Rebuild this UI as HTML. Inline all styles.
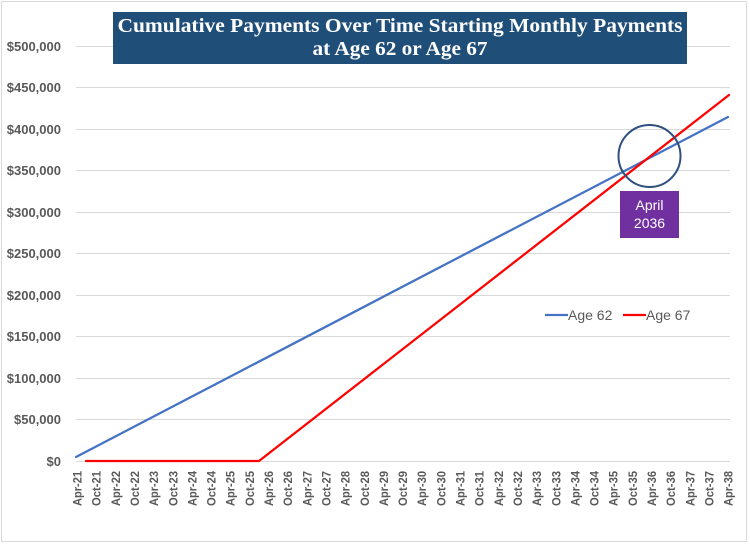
<!DOCTYPE html>
<html>
<head>
<meta charset="utf-8">
<style>
html,body{margin:0;padding:0;background:#fff;}
svg{display:block;}
</style>
</head>
<body>
<svg width="750" height="544" viewBox="0 0 750 544" xmlns="http://www.w3.org/2000/svg">
<rect x="0" y="0" width="750" height="544" fill="#fff"/>
<rect x="1.5" y="1.5" width="745" height="540" fill="none" stroke="#d9d9d9" stroke-width="1"/>
<!-- gridlines -->
<g stroke="#d9d9d9" stroke-width="1">
<line x1="76" y1="46.5" x2="730" y2="46.5"/>
<line x1="76" y1="87.5" x2="730" y2="87.5"/>
<line x1="76" y1="129.5" x2="730" y2="129.5"/>
<line x1="76" y1="170.5" x2="730" y2="170.5"/>
<line x1="76" y1="212.5" x2="730" y2="212.5"/>
<line x1="76" y1="253.5" x2="730" y2="253.5"/>
<line x1="76" y1="295.5" x2="730" y2="295.5"/>
<line x1="76" y1="336.5" x2="730" y2="336.5"/>
<line x1="76" y1="378.5" x2="730" y2="378.5"/>
<line x1="76" y1="419.5" x2="730" y2="419.5"/>
<line x1="76" y1="461.5" x2="730" y2="461.5"/>
</g>
<!-- y labels -->
<g font-family="Liberation Sans, Arial, sans-serif" font-size="13" font-weight="bold" fill="#595959" text-anchor="end">
<text x="61" y="51">$500,000</text>
<text x="61" y="92">$450,000</text>
<text x="61" y="134">$400,000</text>
<text x="61" y="175">$350,000</text>
<text x="61" y="217">$300,000</text>
<text x="61" y="258">$250,000</text>
<text x="61" y="300">$200,000</text>
<text x="61" y="341">$150,000</text>
<text x="61" y="383">$100,000</text>
<text x="61" y="424">$50,000</text>
<text x="61" y="466">$0</text>
</g>
<!-- x labels -->
<g font-family="Liberation Sans, Arial, sans-serif" font-size="12" font-weight="bold" fill="#595959" text-anchor="end">
<text transform="translate(81.5,471) rotate(-90)" textLength="35" lengthAdjust="spacingAndGlyphs">Apr-21</text>
<text transform="translate(100.65,471) rotate(-90)" textLength="35" lengthAdjust="spacingAndGlyphs">Oct-21</text>
<text transform="translate(119.8,471) rotate(-90)" textLength="35" lengthAdjust="spacingAndGlyphs">Apr-22</text>
<text transform="translate(138.95,471) rotate(-90)" textLength="35" lengthAdjust="spacingAndGlyphs">Oct-22</text>
<text transform="translate(158.1,471) rotate(-90)" textLength="35" lengthAdjust="spacingAndGlyphs">Apr-23</text>
<text transform="translate(177.25,471) rotate(-90)" textLength="35" lengthAdjust="spacingAndGlyphs">Oct-23</text>
<text transform="translate(196.4,471) rotate(-90)" textLength="35" lengthAdjust="spacingAndGlyphs">Apr-24</text>
<text transform="translate(215.55,471) rotate(-90)" textLength="35" lengthAdjust="spacingAndGlyphs">Oct-24</text>
<text transform="translate(234.7,471) rotate(-90)" textLength="35" lengthAdjust="spacingAndGlyphs">Apr-25</text>
<text transform="translate(253.85,471) rotate(-90)" textLength="35" lengthAdjust="spacingAndGlyphs">Oct-25</text>
<text transform="translate(273,471) rotate(-90)" textLength="35" lengthAdjust="spacingAndGlyphs">Apr-26</text>
<text transform="translate(292.15,471) rotate(-90)" textLength="35" lengthAdjust="spacingAndGlyphs">Oct-26</text>
<text transform="translate(311.3,471) rotate(-90)" textLength="35" lengthAdjust="spacingAndGlyphs">Apr-27</text>
<text transform="translate(330.45,471) rotate(-90)" textLength="35" lengthAdjust="spacingAndGlyphs">Oct-27</text>
<text transform="translate(349.6,471) rotate(-90)" textLength="35" lengthAdjust="spacingAndGlyphs">Apr-28</text>
<text transform="translate(368.75,471) rotate(-90)" textLength="35" lengthAdjust="spacingAndGlyphs">Oct-28</text>
<text transform="translate(387.9,471) rotate(-90)" textLength="35" lengthAdjust="spacingAndGlyphs">Apr-29</text>
<text transform="translate(407.05,471) rotate(-90)" textLength="35" lengthAdjust="spacingAndGlyphs">Oct-29</text>
<text transform="translate(426.2,471) rotate(-90)" textLength="35" lengthAdjust="spacingAndGlyphs">Apr-30</text>
<text transform="translate(445.35,471) rotate(-90)" textLength="35" lengthAdjust="spacingAndGlyphs">Oct-30</text>
<text transform="translate(464.5,471) rotate(-90)" textLength="35" lengthAdjust="spacingAndGlyphs">Apr-31</text>
<text transform="translate(483.65,471) rotate(-90)" textLength="35" lengthAdjust="spacingAndGlyphs">Oct-31</text>
<text transform="translate(502.8,471) rotate(-90)" textLength="35" lengthAdjust="spacingAndGlyphs">Apr-32</text>
<text transform="translate(521.95,471) rotate(-90)" textLength="35" lengthAdjust="spacingAndGlyphs">Oct-32</text>
<text transform="translate(541.1,471) rotate(-90)" textLength="35" lengthAdjust="spacingAndGlyphs">Apr-33</text>
<text transform="translate(560.25,471) rotate(-90)" textLength="35" lengthAdjust="spacingAndGlyphs">Oct-33</text>
<text transform="translate(579.4,471) rotate(-90)" textLength="35" lengthAdjust="spacingAndGlyphs">Apr-34</text>
<text transform="translate(598.55,471) rotate(-90)" textLength="35" lengthAdjust="spacingAndGlyphs">Oct-34</text>
<text transform="translate(617.7,471) rotate(-90)" textLength="35" lengthAdjust="spacingAndGlyphs">Apr-35</text>
<text transform="translate(636.85,471) rotate(-90)" textLength="35" lengthAdjust="spacingAndGlyphs">Oct-35</text>
<text transform="translate(656,471) rotate(-90)" textLength="35" lengthAdjust="spacingAndGlyphs">Apr-36</text>
<text transform="translate(675.15,471) rotate(-90)" textLength="35" lengthAdjust="spacingAndGlyphs">Oct-36</text>
<text transform="translate(694.3,471) rotate(-90)" textLength="35" lengthAdjust="spacingAndGlyphs">Apr-37</text>
<text transform="translate(713.45,471) rotate(-90)" textLength="35" lengthAdjust="spacingAndGlyphs">Oct-37</text>
<text transform="translate(732.6,471) rotate(-90)" textLength="35" lengthAdjust="spacingAndGlyphs">Apr-38</text>
</g>
<!-- series -->
<polyline points="76,457 728,117" fill="none" stroke="#4472c4" stroke-width="2.25" stroke-linecap="round"/>
<polyline points="86,461 259,461 729,95" fill="none" stroke="#ff0000" stroke-width="2.25" stroke-linecap="round" stroke-linejoin="round"/>
<!-- title -->
<rect x="113" y="12" width="574" height="52" fill="#1f4e79"/>
<g font-family="Liberation Serif, Times New Roman, serif" font-size="20" font-weight="bold" fill="#fff" text-anchor="middle">
<text x="400" y="32" textLength="565" lengthAdjust="spacingAndGlyphs">Cumulative Payments Over Time Starting Monthly Payments</text>
<text x="400" y="55" textLength="175" lengthAdjust="spacingAndGlyphs">at Age 62 or Age 67</text>
</g>
<!-- annotation -->
<circle cx="649.5" cy="156" r="31" fill="none" stroke="#2f4f7f" stroke-width="2"/>
<rect x="620" y="191" width="59" height="47" fill="#7030a0"/>
<g font-family="Liberation Sans, Arial, sans-serif" font-size="14" fill="#fff" text-anchor="middle">
<text x="649.5" y="210">April</text>
<text x="649.5" y="228">2036</text>
</g>
<!-- legend -->
<line x1="545" y1="315" x2="568" y2="315" stroke="#4472c4" stroke-width="2.25"/>
<line x1="623" y1="315" x2="646" y2="315" stroke="#ff0000" stroke-width="2.25"/>
<g font-family="Liberation Sans, Arial, sans-serif" font-size="14" fill="#595959">
<text x="568" y="320">Age 62</text>
<text x="646" y="320">Age 67</text>
</g>
</svg>
</body>
</html>
